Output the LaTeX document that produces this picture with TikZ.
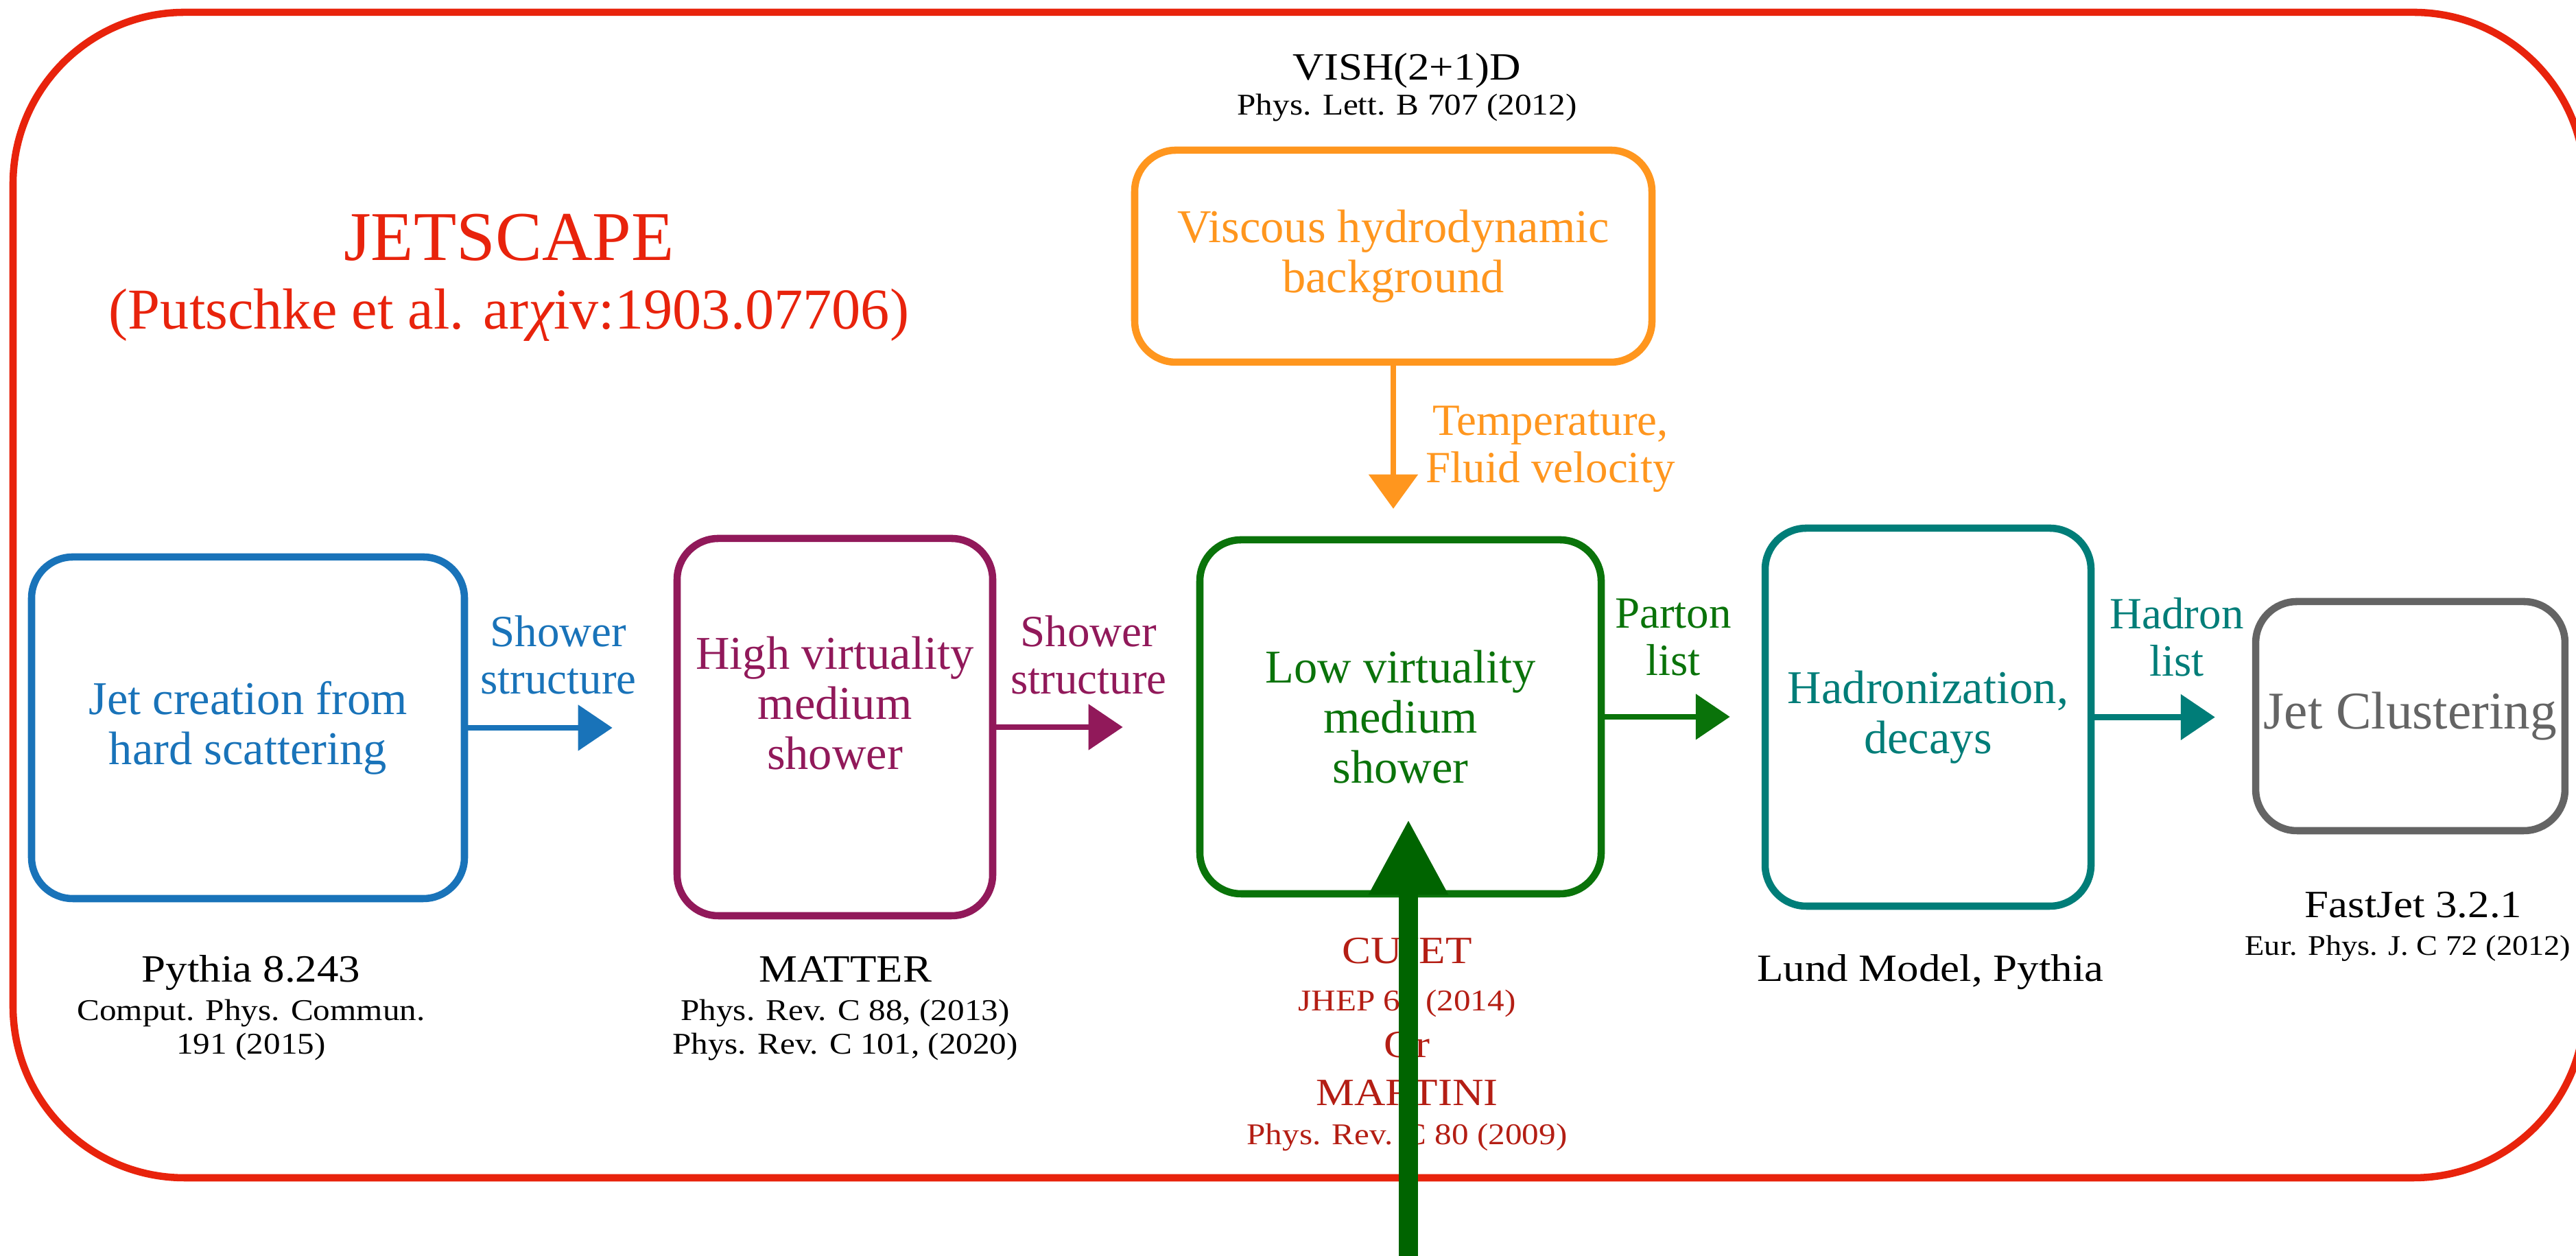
\documentclass[tikz,border=0pt]{standalone}
\usepackage{fontspec}
\setmainfont{Liberation Serif}
\newfontfamily\capfont[FakeStretch=1.12]{Liberation Serif}
\usetikzlibrary{arrows.meta}

\definecolor{jsred}{RGB}{232,35,12}
\definecolor{hardblue}{RGB}{25,115,185}
\definecolor{matterpurple}{RGB}{145,25,90}
\definecolor{lowgreen}{RGB}{10,115,10}
\definecolor{hadrteal}{RGB}{0,125,120}
\definecolor{clustgray}{RGB}{100,100,100}
\definecolor{hydroorange}{RGB}{255,150,30}
\definecolor{cujetred}{RGB}{180,30,20}
\definecolor{kickgreen}{RGB}{0,100,0}

\newcommand{\bxfont}{\fontsize{19.5}{20.8}\selectfont}
\newcommand{\lblfont}{\fontsize{18.5}{19.6}\selectfont}
\newcommand{\capnamefont}{\capfont\fontsize{16}{18}\selectfont}
\newcommand{\capreffont}{\capfont\fontsize{12.5}{14}\selectfont}

\begin{document}
\begin{tikzpicture}[
	stage/.style={draw=#1, text=#1, line width=3pt, rounded corners=6mm, align=center, font=\bxfont},
	lbl/.style={text=#1, align=center, font=\lblfont},
	flow/.style={draw=#1, line width=2.5pt, -{Triangle[length=5mm,width=6.5mm]}},
	capname/.style={anchor=base, font=\capnamefont},
	capref/.style={anchor=base, font=\capreffont}]
				\useasboundingbox (0,0) rectangle (37.55,18.31);
				% JETSCAPE frame
				\draw[jsred, line width=3pt, rounded corners=25mm] (0.19,1.14) rectangle (37.68,18.13);
				\node[text=jsred, anchor=base, font=\fontsize{29}{32}\selectfont] (jtitle) at (7.42,14.51) {JETSCAPE};
				\node[text=jsred, anchor=base, font=\fontsize{24}{28}\selectfont] (jref) at (7.42,13.51) {(Putschke et al. ar{\itshape χ}iv:1903.07706)};
				% stages
				\node[stage=hardblue, minimum width=6.31cm, minimum height=4.98cm] (hard) at (3.615,7.70) {Jet creation from\\hard scattering};
				\node[stage=matterpurple, minimum width=4.6cm, minimum height=5.5cm, text depth=7mm] (highv) at (12.17,7.71) {High virtuality\\medium\\shower};
				\node[stage=lowgreen, minimum width=5.85cm, minimum height=5.16cm] (lowv) at (20.415,7.86) {Low virtuality\\medium\\shower};
				\node[stage=hadrteal, minimum width=4.75cm, minimum height=5.51cm] (hadr) at (28.105,7.855) {Hadronization,\\decays};
				\node[stage=clustgray, minimum width=4.27cm, minimum height=3.34cm, font=\fontsize{22}{24}\selectfont] (clust) at (35.135,7.87) {Jet Clustering};
				\node[stage=hydroorange, minimum width=7.54cm, minimum height=3.09cm] (hydro) at (20.31,14.575) {Viscous hydrodynamic\\background};
				% connectors
				\draw[flow=hardblue, shorten >=8.9mm] (hard.east) -- (hard.east -| highv.west);
				\draw[flow=matterpurple, shorten >=10.7mm] (highv.east) -- (highv.east -| lowv.west);
				\draw[flow=lowgreen, shorten >=4.6mm] (lowv.east) -- (lowv.east -| hadr.west);
				\draw[flow=hadrteal, shorten >=5.4mm] (hadr.east) -- (hadr.east -| clust.west);
				\draw[flow=hydroorange, shorten >=4mm, -{Triangle[length=5mm,width=7mm]}] (hydro.south) -- (hydro.south |- lowv.north);
				\node[lbl=hardblue] (shw1) at (8.14,8.76) {Shower\\structure};
				\node[lbl=matterpurple] (shw2) at (15.87,8.76) {Shower\\structure};
				\node[lbl=lowgreen] (parton) at (24.39,9.02) {Parton\\list};
				\node[lbl=hadrteal] (hadron) at (31.73,9.02) {Hadron\\list};
				\node[lbl=hydroorange] (temp) at (22.60,11.76) {Temperature,\\Fluid velocity};
				% codes and references
				\node[capname] (vish) at (20.51,17.14) {VISH(2+1)D};
				\node[capref] (vishref) at (20.51,16.63) {Phys. Lett. B 707 (2012)};
				\node[capname] (pythia) at (3.66,3.99) {Pythia 8.243};
				\node[capref] (pythiaref) at (3.66,3.43) {Comput. Phys. Commun.};
				\node[capref] (pythiavol) at (3.66,2.94) {191 (2015)};
				\node[capname] (matter) at (12.32,3.99) {MATTER};
				\node[capref] (matterref) at (12.32,3.43) {Phys. Rev. C 88, (2013)};
				\node[capref] (matterref2) at (12.32,2.94) {Phys. Rev. C 101, (2020)};
				\node[capname, text=cujetred] (cujet) at (20.51,4.26) {CUJET};
				\node[capref, text=cujetred] (cujetref) at (20.51,3.57) {JHEP 63 (2014)};
				\node[capname, text=cujetred] (or) at (20.51,2.89) {Or};
				\node[capname, text=cujetred] (martini) at (20.51,2.19) {MARTINI};
				\node[capref, text=cujetred] (martiniref) at (20.51,1.62) {Phys. Rev. C 80 (2009)};
				\node[capname] (lund) at (28.14,4.00) {Lund Model, Pythia};
				\node[capname] (fastjet) at (35.18,4.93) {FastJet 3.2.1};
				\node[capref, font=\capfont\fontsize{11.8}{14}\selectfont] (fastjetref) at (35.10,4.38) {Eur. Phys. J. C 72 (2012)};
				% kick into the low virtuality stage
				\coordinate (kick) at (20.53,-0.3);
				\draw[kickgreen, line width=8pt, -{Triangle[length=11mm,width=10.8mm]}] (kick) -- ([yshift=11.4mm]kick |- lowv.south);
			\end{tikzpicture}
\end{document}
